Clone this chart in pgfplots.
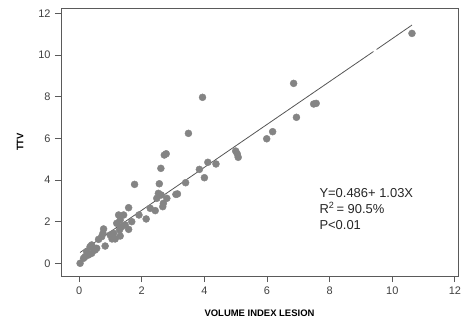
\documentclass[border=0pt]{standalone}
\usepackage{pgfplots}
\pgfplotsset{compat=1.18}
\usepackage{fontspec}
\setmainfont{Liberation Sans}
\definecolor{pt}{RGB}{132,132,132}
\definecolor{ln}{RGB}{85,85,85}
\definecolor{fr}{RGB}{90,90,90}
\begin{document}
\begin{tikzpicture}
\begin{axis}[
  scale only axis, width=397bp, height=268bp,
  xmin=-0.58, xmax=12.1, ymin=-0.61, ymax=12.26,
  xtick={0,2,...,12}, ytick={0,2,...,12},
  tick align=outside, tick pos=left,
  major tick length=6bp,
  axis line style={fr, line width=0.9pt},
  every tick/.style={fr, line width=0.8pt},
  /pgf/number format/assume math mode=true,
  tick label style={font=\fontsize{11}{13}\selectfont, text=black!75},
  xticklabel style={yshift=-1bp},
  yticklabel style={xshift=-1bp},
  xlabel={\textbf{VOLUME INDEX LESION}},
  ylabel={\textbf{TTV}},
  label style={font=\fontsize{9.5}{11}\selectfont},
  xlabel style={at={(ticklabel cs:0.5)}, anchor=north, yshift=-9bp},
  ylabel style={at={(ticklabel cs:0.5)}, anchor=south, yshift=8bp},
  clip=false,
]
\addplot[only marks, pt, mark=*, mark size=3.5bp, every mark/.append style={pt, draw=pt, fill=pt}] coordinates {
(10.63,11.04) (6.85,8.64) (3.94,7.97) (7.49,7.65) (7.57,7.68) (6.94,7.01)
(3.49,6.24) (6.18,6.32) (5.99,5.98) (5.00,5.39) (5.05,5.25) (5.08,5.09)
(2.72,5.20) (2.78,5.26) (2.61,4.56) (4.11,4.85) (4.37,4.77) (3.84,4.51)
(4.00,4.11) (3.40,3.87) (1.77,3.79) (2.56,3.82) (3.14,3.33) (3.09,3.31)
(2.53,3.36) (2.62,3.28) (2.48,3.12) (2.80,3.12) (2.69,2.88) (2.67,2.72)
(2.43,2.53) (2.27,2.64) (2.14,2.13) (1.91,2.32) (1.58,2.67)
(1.26,2.32) (1.42,2.32) (1.31,2.08) (1.20,1.92) (1.36,1.76) (1.47,1.84)
(1.58,1.63) (1.68,2.00) (1.29,1.60) (1.31,1.31) (1.15,1.17) (1.05,1.17)
(0.78,1.65) (0.76,1.44) (0.72,1.28) (1.10,1.44) (0.99,1.36) (0.62,1.15)
(0.83,0.83) (0.56,0.72) (0.46,0.72) (0.35,0.80) (0.40,0.88)
(0.24,0.56) (0.30,0.40) (0.19,0.32) (0.14,0.24) (0.40,0.48) (0.51,0.64)
(0.03,0.00)
};
\addplot[ln, line width=0.8pt] coordinates {(0.03,0.52) (9.40,10.17)};
\addplot[ln, line width=0.8pt] coordinates {(9.50,10.27) (10.63,11.44)};
\node[anchor=north west, align=left, inner sep=0pt, font=\fontsize{13}{16}\selectfont, text=black!85]
  at (axis cs:7.67,3.62) {Y=0.486+ 1.03X\\R\textsuperscript{2}\,= 90.5\%\\P<0.01};
\end{axis}
\pgfresetboundingbox
\path (current axis.south west) ++(-61bp,-44bp) rectangle ++(462bp,320bp);
\end{tikzpicture}
\end{document}
